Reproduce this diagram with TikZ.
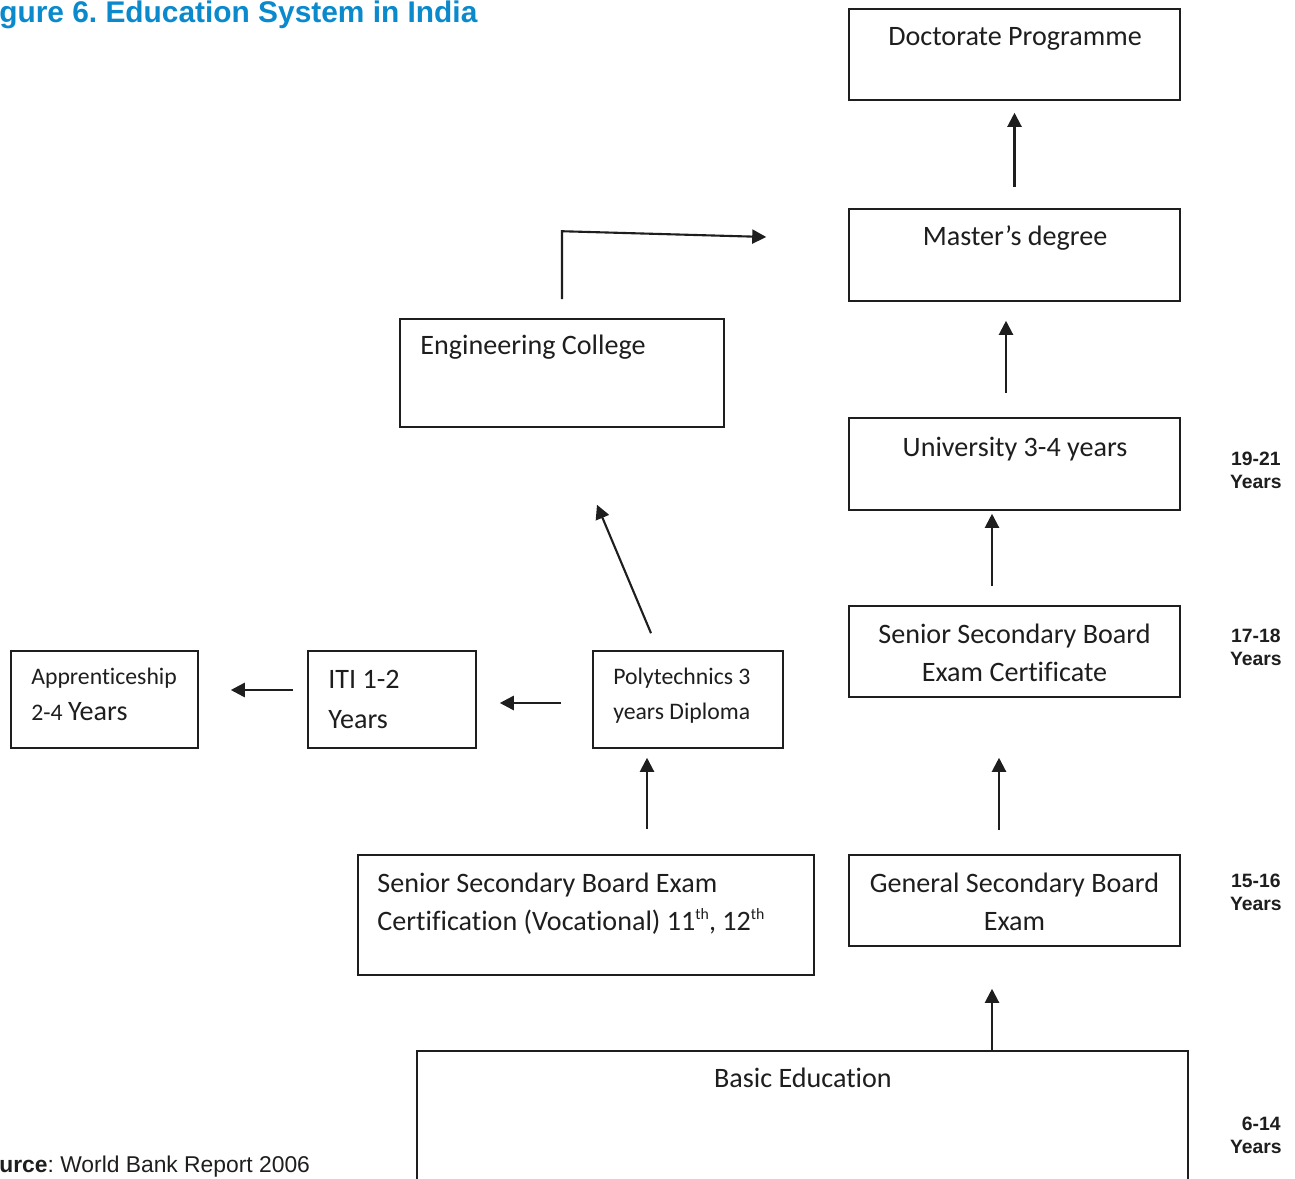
\documentclass[tikz,border=0pt]{standalone}
\usepackage{fontspec}
\setmainfont[Ligatures=NoCommon]{Carlito}
\newfontfamily\arialf{Liberation Sans}
\usetikzlibrary{arrows.meta,calc}
\definecolor{titleblue}{RGB}{10,138,204}
\definecolor{ink}{RGB}{30,30,30}
\frenchspacing
\newcommand{\supth}{\raisebox{0.75ex}{\fontsize{9}{9}\selectfont th}}
\begin{document}
\begin{tikzpicture}[x=0.02cm,y=-0.02cm,
  box/.style={draw=ink, line width=0.9pt, inner sep=0pt},
  txt/.style={font=\fontsize{16}{20}\selectfont, text=ink, inner sep=0pt, anchor=base},
  txtl/.style={txt, anchor=base west},
  stxt/.style={txtl, font=\fontsize{13.5}{17}\selectfont},
  age/.style={font=\arialf\bfseries\fontsize{11}{13}\selectfont, anchor=base east, inner sep=0pt, text=ink},
  arr/.style={-{Triangle[length=8pt,width=8pt]}, line width=1.2pt, draw=ink}]
\useasboundingbox[fill=white] (0,0) rectangle (1295,1179);

% title and source
\node[anchor=base west, inner sep=0pt, text=titleblue, font=\arialf\bfseries\fontsize{17}{20}\selectfont] (title) at (-1,23) {gure 6. Education System in India};
\node[anchor=base west, inner sep=0pt, text=ink, font=\arialf\fontsize{13}{16}\selectfont] (source) at (-1,1172) {\textbf{urce}: World Bank Report 2006};

% right column boxes
\node[box, minimum width=6.62cm, minimum height=1.82cm] (doc) at (1014.5,54.5) {};
\node[box, minimum width=6.62cm, minimum height=1.84cm] (mas) at (1014.5,255) {};
\node[box, minimum width=6.62cm, minimum height=1.84cm] (uni) at (1014.5,464) {};
\node[box, minimum width=6.62cm, minimum height=1.82cm] (ssb) at (1014.5,651.5) {};
\node[box, minimum width=6.62cm, minimum height=1.82cm] (gen) at (1014.5,900.5) {};
\node[box, minimum width=15.42cm, minimum height=2.9cm] (basic) at (802.5,1123.5) {};

% left boxes
\node[box, minimum width=6.48cm, minimum height=2.16cm] (eng) at (562,373) {};
\node[box, minimum width=3.8cm, minimum height=1.94cm] (poly) at (688,699.5) {};
\node[box, minimum width=3.36cm, minimum height=1.94cm] (iti) at (392,699.5) {};
\node[box, minimum width=3.74cm, minimum height=1.94cm] (app) at (104.5,699.5) {};
\node[box, minimum width=9.12cm, minimum height=2.4cm] (voc) at (586,915) {};

% texts
\node[txt] (doct) at (1015,46) {Doctorate Programme};
\node[txt] (mast) at (1015,246) {Master’s degree};
\node[txt] (unit) at (1015,456) {University 3-4 years};
\node[txt] (ssbt1) at (1014.5,643) {Senior Secondary Board};
\node[txt] (ssbt2) at (1014.5,681) {Exam Certificate};
\node[txt] (gent1) at (1014.5,892) {General Secondary Board};
\node[txt] (gent2) at (1014.5,930) {Exam};
\node[txt] (basict) at (803,1087) {Basic Education};
\node[txtl] (engt) at (420,355) {Engineering College};
\node[txtl] (voct1) at (377,892) {Senior Secondary Board Exam};
\node[txtl] (voct2) at (377,930) {Certification (Vocational) 11\supth, 12\supth};
\node[stxt] (polyt1) at (613,684) {Polytechnics 3};
\node[stxt] (polyt2) at (613,719) {years Diploma};
\node[txtl] (itit1) at (328,688) {ITI 1-2};
\node[txtl] (itit2) at (328,728) {Years};
\node[stxt] (appt1) at (31,684) {Apprenticeship};
\node[stxt] (appt2) at (31,720) {2-4 {\fontsize{16}{20}\selectfont Years}};

% ages
\node[age] (a1) at (1281,465) {19-21};
\node[age] (a1y) at (1282,488) {Years};
\node[age] (a2) at (1281,642) {17-18};
\node[age] (a2y) at (1282,665) {Years};
\node[age] (a3) at (1281,887) {15-16};
\node[age] (a3y) at (1282,910) {Years};
\node[age] (a4) at (1281,1130) {6-14};
\node[age] (a4y) at (1282,1153) {Years};

% arrows right column
\draw[arr, shorten <=0.42cm, shorten >=0.24cm] (mas.north) -- (doc.south);
\draw[arr, shorten <=0.48cm, shorten >=0.38cm] ([xshift=-0.17cm]uni.north) -- ([xshift=-0.17cm]mas.south);
\draw[arr, shorten <=0.38cm, shorten >=0.06cm] ([xshift=-0.45cm]ssb.north) -- ([xshift=-0.45cm]uni.south);
\draw[arr, shorten <=0.48cm, shorten >=1.2cm] ([xshift=-0.31cm]gen.north) -- ([xshift=-0.31cm]ssb.south);
\coordinate (bg) at ([xshift=-0.45cm,yshift=-0.84cm]gen.south);
\draw[arr] (bg |- basic.north) -- (bg);

% arrows left
\coordinate (pv) at ([xshift=-0.82cm,yshift=-0.18cm]poly.south);
\draw[arr, shorten <=0.5cm] (voc.north -| pv) -- (pv);
\draw[arr] ([xshift=-0.74cm,yshift=0.34cm]poly.north) -- ([xshift=0.7cm,yshift=-1.54cm]eng.south);
\draw[arr, line width=1.5pt] ([xshift=-0.62cm,yshift=-0.07cm]poly.west) -- ([xshift=0.46cm,yshift=-0.07cm]iti.east);
\draw[arr, line width=1.5pt] ([xshift=-0.28cm,yshift=0.19cm]iti.west) -- ([xshift=0.64cm,yshift=0.19cm]app.east);
\draw[arr] ([yshift=0.38cm]eng.north) -- ([yshift=1.74cm]eng.north) -- ([xshift=-1.64cm,yshift=0.36cm]mas.west);
\end{tikzpicture}
\end{document}
